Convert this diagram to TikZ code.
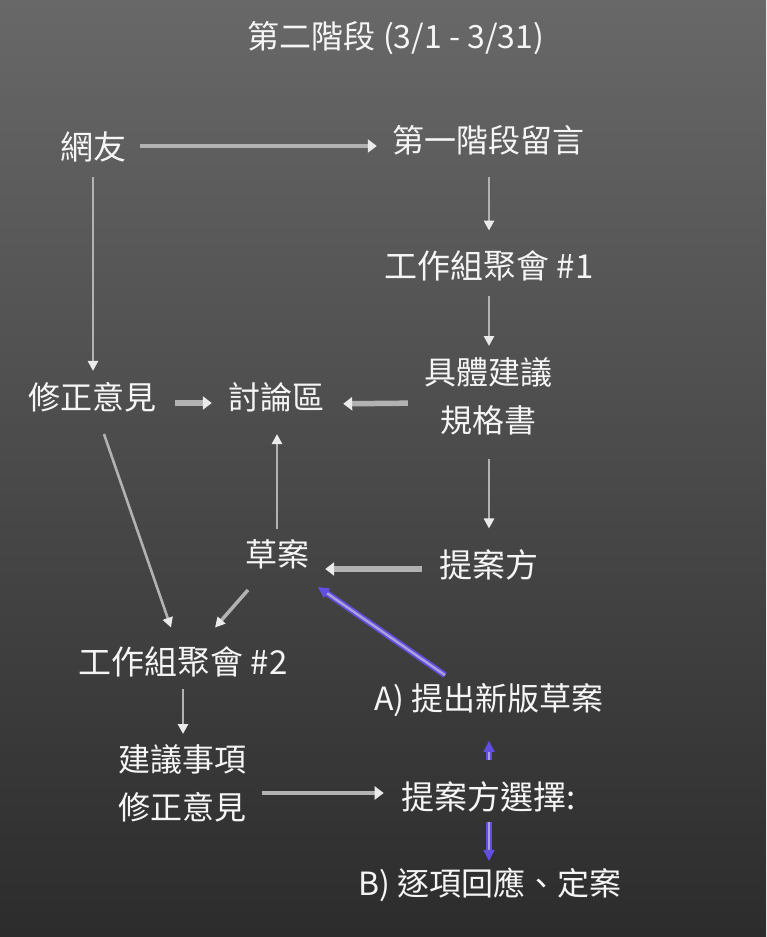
\documentclass[tikz,border=0pt]{standalone}
\usepackage{fontspec}
\setmainfont{Noto Sans CJK TC}
\usetikzlibrary{arrows.meta}
\definecolor{bgtop}{RGB}{104,104,104}
\definecolor{bgbot}{RGB}{44,44,44}
\definecolor{txt}{RGB}{245,245,245}
\definecolor{arrgray}{RGB}{178,178,178}
\definecolor{tipgray}{RGB}{235,235,235}
\definecolor{purp}{RGB}{98,78,225}
\definecolor{lav}{RGB}{170,160,220}
\tikzset{
  lbl/.style={text=txt, inner sep=0pt, font=\fontsize{32}{48}\selectfont, align=center},
  kai/.style={text=txt, inner sep=0pt, font=\fontsize{33}{40}\selectfont},
  ttl/.style={text=txt, inner sep=0pt, font=\fontsize{32}{36}\selectfont},
  thinarr/.style={draw=arrgray, line width=2.6pt, -{Triangle[length=10pt,width=10pt,color=tipgray,fill=tipgray]}},
  thickarr/.style={draw=arrgray, line width=5.5pt, -{Triangle[length=9pt,width=13pt,color=tipgray,fill=tipgray]}},
  purparr/.style={draw=purp, double=lav, double distance=2.4pt, line width=1.8pt, -{Triangle[length=11pt,width=11pt]}},
}
\begin{document}
\begin{tikzpicture}[x=1pt,y=-1pt]
\shade[top color=bgtop, bottom color=bgbot] (0,0) rectangle (766,937);
\useasboundingbox (0,0) rectangle (766,937);

\node[ttl] (title) at (396,38) {第二階段 (3/1 - 3/31)};
\node[kai] (wy) at (93,147) {網友};
\node[lbl] (s1) at (488,140) {第一階段留言};
\node[kai] (wg1) at (489,266) {工作組聚會 \#1};
\node[lbl] (spec) at (488,396) {具體建議\\規格書};
\node[lbl] (mod1) at (92,397) {修正意見};
\node[lbl] (disc) at (276,397) {討論區};
\node[lbl] (dr) at (277,554) {草案};
\node[kai] (prop) at (489,565) {提案方};
\node[kai] (wg2) at (183,662) {工作組聚會 \#2};
\node[lbl] (A) at (489,700) {A) 提出新版草案};
\node[lbl] (sugg) at (182,783) {建議事項\\修正意見};
\node[kai] (choice) at (489,797) {提案方選擇:};
\node[lbl] (B) at (490,885) {B) 逐項回應、定案};

\draw[thickarr, line width=4.5pt, shorten <=14pt, shorten >=15pt] ([yshift=1pt]wy.east) -- ([yshift=1pt]wy.east -| s1.west);
\draw[thinarr, shorten <=22pt, shorten >=20pt] (s1.south -| wg1.north) -- (wg1.north);
\draw[thinarr, shorten <=15pt, shorten >=11pt] (wg1.south) -- (wg1.south |- spec.north);
\draw[thinarr, shorten <=15pt, shorten >=11pt] (wy.south) -- (wy.south |- mod1.north);
\draw[thickarr, shorten <=19pt, shorten >=16pt] ([yshift=-6pt]mod1.east) -- ([yshift=-6pt]disc.west);
\draw[thickarr, shorten <=16pt, shorten >=19pt] ([yshift=-7pt]spec.west) -- ([yshift=-7pt]disc.east);
\draw[thinarr, shorten <=24pt, shorten >=21pt] (spec.south -| prop.north) -- (prop.north);
\draw[thinarr, shorten <=10pt, shorten >=22pt] (dr.north) -- (dr.north |- disc.south);
\draw[thickarr, shorten <=17pt, shorten >=16pt] ([yshift=-4pt]prop.west) -- ([yshift=-4pt]prop.west -| dr.east);
\draw[thinarr] ([xshift=12pt,yshift=-22pt]mod1.south) -- ([xshift=-12pt,yshift=19pt]wg2.north);
\draw[thinarr, line width=3.5pt] ([xshift=-29pt,yshift=-21pt]dr.south) -- ([xshift=32pt,yshift=19pt]wg2.north);
\draw[thinarr, shorten <=12pt, shorten >=10pt] (wg2.south) -- (wg2.south |- sugg.north);
\draw[thickarr, line width=4.5pt, shorten <=16pt, shorten >=18pt] ([yshift=-10pt]sugg.east) -- ([yshift=-10pt]sugg.east -| choice.west);
\draw[purparr, shorten <=21pt, shorten >=24pt] (choice.north) -- (choice.north |- A.south);
\draw[purparr, shorten <=9pt, shorten >=7pt] (choice.south) -- (choice.south |- B.north);
\draw[purparr] ([xshift=-44pt,yshift=8pt]A.north) -- ([xshift=41pt,yshift=-18pt]dr.south);
\end{tikzpicture}
\end{document}
